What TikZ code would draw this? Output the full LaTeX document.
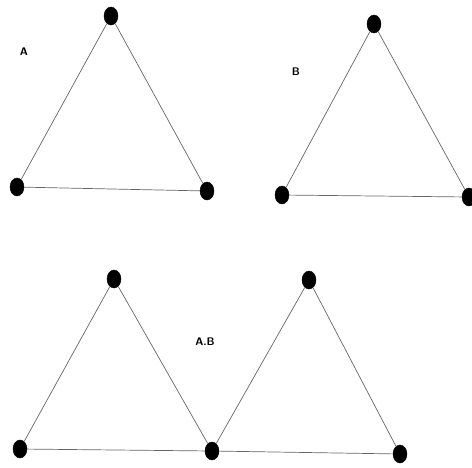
\documentclass[tikz,border=0pt]{standalone}
\usepackage{tikz}
\usetikzlibrary{shapes.geometric}

\begin{document}
\begin{tikzpicture}[
    x=1pt, y=-1pt,
    vtx/.style={ellipse, draw=black, fill=black, inner sep=0pt,
                minimum width=14pt, minimum height=18pt},
    edg/.style={draw=black!60, line width=0.7pt},
    lbl/.style={font=\sffamily\bfseries\fontsize{11}{12}\selectfont}
]
\useasboundingbox (0,0) rectangle (472,467);
% Triangle A, upper left
\node[vtx] (A1) at (111,16)  {};
\node[vtx] (A2) at (17,187)  {};
\node[vtx] (A3) at (207,191) {};
\node[lbl] (labA) at (24,52) {A};
% Triangle B, upper right
\node[vtx] (B1) at (374,24)  {};
\node[vtx] (B2) at (282,195) {};
\node[vtx] (B3) at (469,197) {};
\node[lbl] (labB) at (296,72) {B};
% Product A.B: two triangles sharing one vertex
\node[vtx] (C1) at (114,279) {};
\node[vtx] (C2) at (20,449)  {};
\node[vtx] (C3) at (212,451) {};
\node[vtx] (C4) at (309,280) {};
\node[vtx] (C5) at (400,454) {};
\node[lbl] (labC) at (205,342) {A.B};
% Edges
\draw[edg] (A1) -- (A2) -- (A3) -- (A1);
\draw[edg] (B1) -- (B2) -- (B3) -- (B1);
\draw[edg] (C1) -- (C2) -- (C3) -- (C1);
\draw[edg] (C4) -- (C3) -- (C5) -- (C4);
\end{tikzpicture}
\end{document}
